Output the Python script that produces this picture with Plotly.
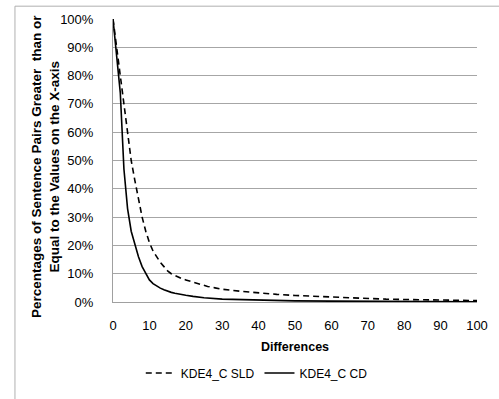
import plotly.graph_objects as go

sld_x = [0, 1, 2, 3, 4, 5, 6, 7, 8, 9, 10, 11, 12, 13, 14, 15, 16, 17, 18, 19, 20,
         22, 24, 26, 28, 30, 35, 40, 45, 50, 55, 60, 65, 70, 75, 80, 85, 90, 95, 100]
sld_y = [100, 90, 78, 68, 58, 50, 43, 36, 30, 25, 21, 18, 16, 14, 12.5, 11, 10, 9.3, 8.7, 8.2, 7.8,
         7.0, 6.2, 5.5, 5.0, 4.5, 3.8, 3.2, 2.7, 2.3, 2.0, 1.7, 1.4, 1.2, 1.0, 0.9, 0.8, 0.7, 0.6, 0.5]

cd_x = [0, 1, 2, 3, 4, 5, 6, 7, 8, 9, 10, 11, 12, 13, 14, 15, 16, 17, 18, 19, 20,
        22, 25, 30, 35, 40, 50, 60, 70, 80, 90, 100]
cd_y = [100, 86, 74, 47, 33, 25, 20.5, 16, 12.5, 10, 7.8, 6.5, 5.6, 4.9, 4.3, 3.8, 3.4, 3.1, 2.8, 2.6, 2.4,
        2.0, 1.5, 1.0, 0.8, 0.6, 0.4, 0.3, 0.2, 0.2, 0.1, 0.1]

x_ticks = [0, 10, 20, 30, 40, 50, 60, 70, 80, 90, 100]
y_ticks = [0, 10, 20, 30, 40, 50, 60, 70, 80, 90, 100]
y_labels = [f"{v}%" for v in y_ticks]

x_title = "Differences"
y_title = "Percentages of Sentence Pairs Greater  than or<br>Equal to the Values on the X-axis"

FONT = "Liberation Sans"

fig = go.Figure()
fig.add_trace(go.Scatter(x=sld_x, y=sld_y, mode="lines", name="KDE4_C SLD",
                         line=dict(color="black", width=1.6, dash="6px,4px")))
fig.add_trace(go.Scatter(x=cd_x, y=cd_y, mode="lines", name="KDE4_C CD",
                         line=dict(color="black", width=1.6)))

fig.update_layout(
    width=499, height=399,
    margin=dict(l=113, r=11, t=19, b=93),
    paper_bgcolor="white", plot_bgcolor="white",
    font=dict(family=FONT, size=12, color="black"),
    showlegend=True,
    legend=dict(orientation="h", x=0.395, y=-0.251, xanchor="center", yanchor="middle",
                font=dict(size=12), tracegroupgap=0),
    xaxis=dict(range=[0, 100], tickvals=x_ticks, showgrid=False, zeroline=False,
               showline=True, linecolor="#a0a0a0", linewidth=1, ticks="",
               tickfont=dict(size=13), ticklabelstandoff=11,
               title=dict(text=f"<b>{x_title}</b>", font=dict(size=12.5), standoff=10)),
    yaxis=dict(range=[0, 100], tickvals=y_ticks, ticktext=y_labels, showgrid=True,
               gridcolor="#a6a6a6", gridwidth=1, zeroline=False,
               showline=True, linecolor="#a0a0a0", linewidth=1, ticks="",
               tickfont=dict(size=13), ticklabelstandoff=16),
    annotations=[dict(text=f"<b>{y_title}</b>", xref="paper", yref="paper",
                      x=(44 - 113) / 375, y=(306 - 169) / 287, xanchor="center", yanchor="middle",
                      textangle=-90, showarrow=False, font=dict(size=13.5))],
    shapes=[dict(type="rect", xref="paper", yref="paper",
                 x0=(12 - 113) / 375, x1=1.2, y0=-0.5, y1=1 + (19 - 6) / 287,
                 line=dict(color="#b0b0b0", width=1), fillcolor="rgba(0,0,0,0)", layer="above")],
)

fig.write_html("out.html", config={"displayModeBar": False},
               post_script="document.body.style.margin='0';")
